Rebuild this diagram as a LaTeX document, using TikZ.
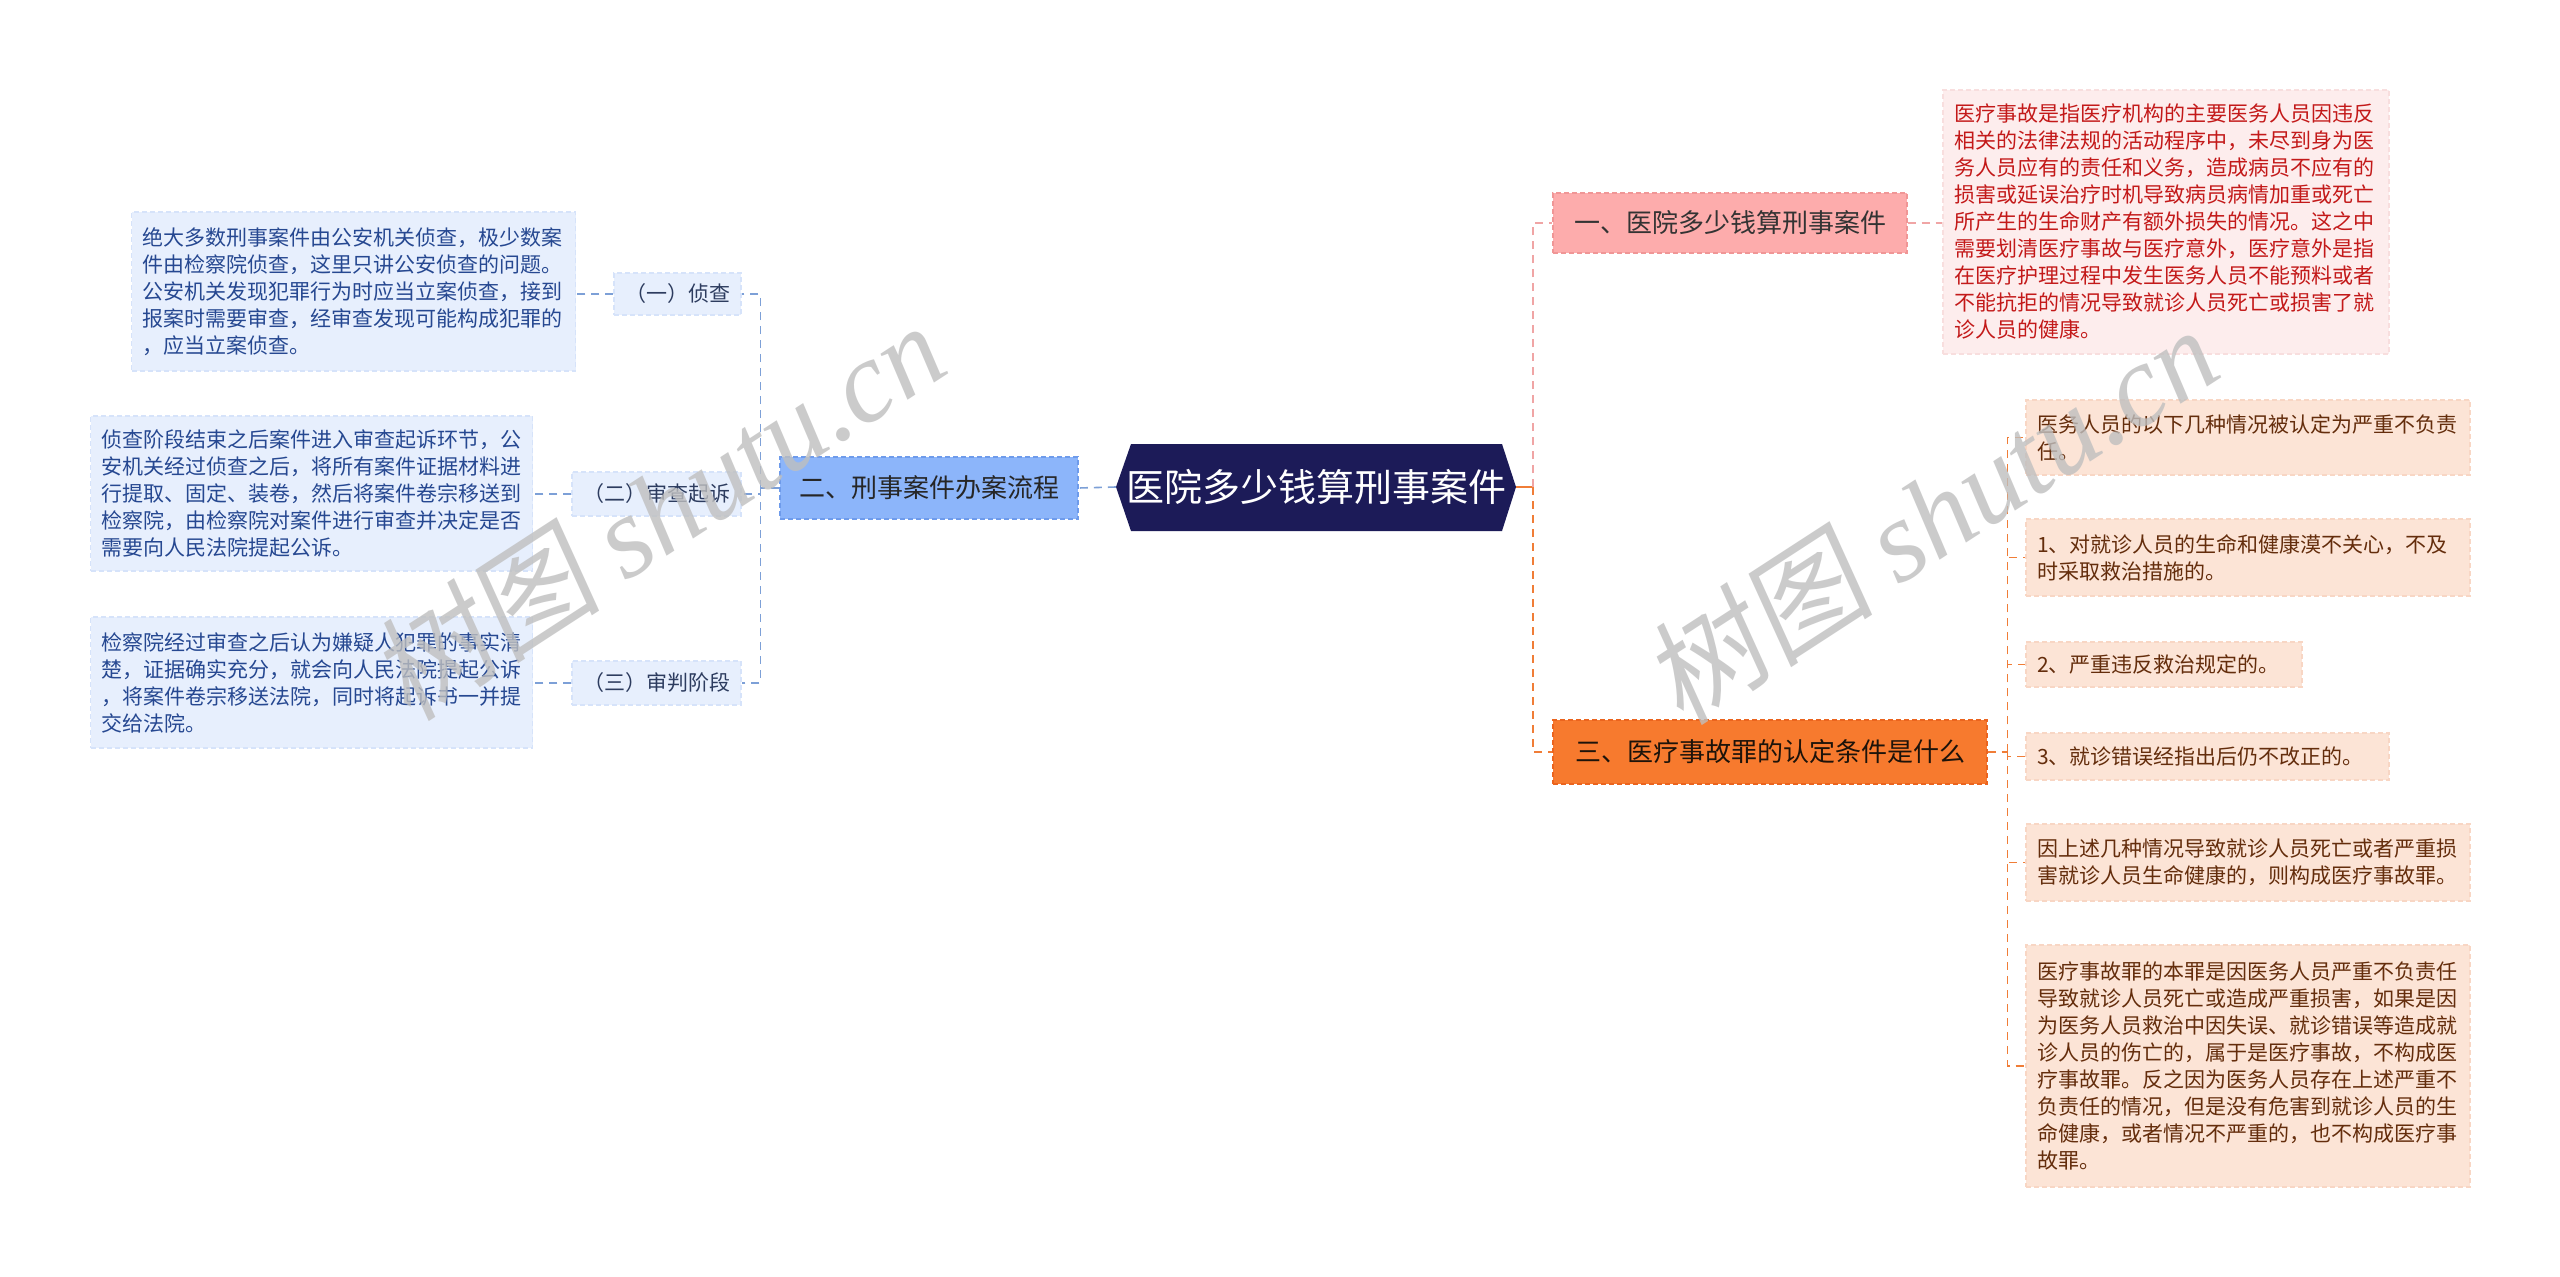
\documentclass[tikz,border=0pt]{standalone}
\usepackage{fontspec}
\setmainfont{Noto Sans CJK SC}
\newfontfamily\wmserif{Liberation Serif}
\newfontfamily\wmcjk[FakeSlant=0.15]{Noto Sans CJK SC}
\definecolor{rootfill}{RGB}{28,27,88}
\definecolor{bluefill}{RGB}{140,181,250}
\definecolor{blueborder}{RGB}{110,155,235}
\definecolor{paleblue}{RGB}{231,239,253}
\definecolor{palebluebd}{RGB}{214,227,250}
\definecolor{bluetext}{RGB}{38,72,145}
\definecolor{subtext}{RGB}{45,60,95}
\definecolor{lineblue}{RGB}{125,160,215}
\definecolor{pinkfill}{RGB}{253,172,172}
\definecolor{pinkborder}{RGB}{240,150,150}
\definecolor{palepink}{RGB}{253,237,237}
\definecolor{palepinkbd}{RGB}{248,222,222}
\definecolor{redtext}{RGB}{195,25,25}
\definecolor{linepink}{RGB}{240,165,165}
\definecolor{orangefill}{RGB}{247,122,46}
\definecolor{orangeborder}{RGB}{235,100,30}
\definecolor{paleorange}{RGB}{252,228,214}
\definecolor{paleorangebd}{RGB}{248,214,196}
\definecolor{browntext}{RGB}{100,45,12}
\definecolor{lineorange}{RGB}{240,125,55}
\begin{document}
\begin{tikzpicture}[x=1pt,y=-1pt,
  conn/.style={line width=1.6pt, dash pattern=on 8pt off 6pt},
  blueline/.style={conn, draw=lineblue},
  pinkline/.style={conn, draw=linepink},
  orangeline/.style={conn, draw=lineorange},
  box/.style={rectangle, inner xsep=11pt, inner ysep=0pt, line width=1.2pt, dash pattern=on 5pt off 3pt},
  mainfnt/.style={font=\fontsize{26}{30}\selectfont},
  leaffnt/.style={font=\fontsize{21}{27}\selectfont},
  branchtwo/.style={box, mainfnt, fill=bluefill, draw=blueborder, text=black!85, align=center},
  subbox/.style={box, leaffnt, fill=paleblue, draw=palebluebd, text=subtext, align=center},
  blueleaf/.style={box, leaffnt, fill=paleblue, draw=palebluebd, text=bluetext, align=left},
  branchone/.style={box, mainfnt, fill=pinkfill, draw=pinkborder, text=black!80, align=center},
  redleaf/.style={box, leaffnt, fill=palepink, draw=palepinkbd, text=redtext, align=left},
  branchthree/.style={box, mainfnt, fill=orangefill, draw=orangeborder, text=black!85!brown, align=center},
  orangeleaf/.style={box, leaffnt, fill=paleorange, draw=paleorangebd, text=browntext, align=left},
  wmark/.style={rotate=33, text=black!25, opacity=0.8, font=\fontsize{116}{118}\selectfont}
]
\useasboundingbox (0,0) rectangle (2560,1277);
\fill[white] (0,0) rectangle (2560,1277);

% root hexagon
\fill[rootfill] (1116,487) -- (1131,444) -- (1502,444) -- (1516,487) -- (1502,531) -- (1131,531) -- cycle;
\node (root) at (1316,487) [minimum width=400pt, minimum height=87pt, inner sep=0pt, text=white, font=\fontsize{38}{40}\selectfont] {医院多少钱算刑事案件};

% left branch
\node[branchtwo, minimum width=298pt, minimum height=62pt] (n2) at (929,488) {二、刑事案件办案流程};
\node[subbox, minimum width=127pt, minimum height=42pt] (s1) at (677.5,294) {（一）侦查};
\node[subbox, minimum width=167pt, minimum height=44pt] (s2) at (656.5,494) {（二）审查起诉};
\node[subbox, minimum width=167pt, minimum height=44pt] (s3) at (656.5,683) {（三）审判阶段};

\node[blueleaf, text width=422pt, minimum height=159pt] (l1) at (353.5,291.5) {绝大多数刑事案件由公安机关侦查，极少数案\\件由检察院侦查，这里只讲公安侦查的问题。\\公安机关发现犯罪行为时应当立案侦查，接到\\报案时需要审查，经审查发现可能构成犯罪的\\，应当立案侦查。};
\node[blueleaf, text width=420pt, minimum height=155pt] (l2) at (311.5,493.5) {侦查阶段结束之后案件进入审查起诉环节，公\\安机关经过侦查之后，将所有案件证据材料进\\行提取、固定、装卷，然后将案件卷宗移送到\\检察院，由检察院对案件进行审查并决定是否\\需要向人民法院提起公诉。};
\node[blueleaf, text width=420pt, minimum height=131pt] (l3) at (311.5,682.5) {检察院经过审查之后认为嫌疑人犯罪的事实清\\楚，证据确实充分，就会向人民法院提起公诉\\，将案件卷宗移送法院，同时将起诉书一并提\\交给法院。};

% right branches
\node[branchone, minimum width=354pt, minimum height=60pt] (b1) at (1730,223) {一、医院多少钱算刑事案件};
\node[redleaf, text width=424pt, minimum height=264pt] (r1) at (2166,222) {医疗事故是指医疗机构的主要医务人员因违反\\相关的法律法规的活动程序中，未尽到身为医\\务人员应有的责任和义务，造成病员不应有的\\损害或延误治疗时机导致病员病情加重或死亡\\所产生的生命财产有额外损失的情况。这之中\\需要划清医疗事故与医疗意外，医疗意外是指\\在医疗护理过程中发生医务人员不能预料或者\\不能抗拒的情况导致就诊人员死亡或损害了就\\诊人员的健康。};

\node[branchthree, minimum width=434pt, minimum height=64pt] (b3) at (1770,752) {三、医疗事故罪的认定条件是什么};
\node[orangeleaf, text width=422pt, minimum height=75pt] (oa) at (2248,437.5) {医务人员的以下几种情况被认定为严重不负责\\任。};
\node[orangeleaf, text width=422pt, minimum height=77pt] (ob) at (2248,557.5) {1、对就诊人员的生命和健康漠不关心，不及\\时采取救治措施的。};
\node[orangeleaf, text width=254pt, minimum height=45pt] (oc) at (2164,664.5) {2、严重违反救治规定的。};
\node[orangeleaf, text width=341pt, minimum height=47pt] (od) at (2207.5,756.5) {3、就诊错误经指出后仍不改正的。};
\node[orangeleaf, text width=422pt, minimum height=77pt] (oe) at (2248,862.5) {因上述几种情况导致就诊人员死亡或者严重损\\害就诊人员生命健康的，则构成医疗事故罪。};
\node[orangeleaf, text width=422pt, minimum height=242pt] (of) at (2248,1066) {医疗事故罪的本罪是因医务人员严重不负责任\\导致就诊人员死亡或造成严重损害，如果是因\\为医务人员救治中因失误、就诊错误等造成就\\诊人员的伤亡的，属于是医疗事故，不构成医\\疗事故罪。反之因为医务人员存在上述严重不\\负责任的情况，但是没有危害到就诊人员的生\\命健康，或者情况不严重的，也不构成医疗事\\故罪。};

% left connectors
\draw[blueline] (root.west) -- (n2.east);
\draw[blueline] (n2.west) -- ++(-19,0) coordinate (lj);
\draw[blueline] (lj) |- (s1.east);
\draw[blueline] (lj) |- (s2.east);
\draw[blueline] (lj) |- (s3.east);
\draw[blueline] (s1.west) -- (s1.west -| l1.east);
\draw[blueline] (s2.west) -- (s2.west -| l2.east);
\draw[blueline] (s3.west) -- (s3.west -| l3.east);

% right connectors
\draw[line width=1.6pt, draw=lineorange] (root.east) -- (1533,487) coordinate (rj);
\draw[pinkline] (rj) |- (b1.west);
\draw[orangeline] (rj) |- (b3.west);
\draw[pinkline] (b1.east) -- (b1.east -| r1.west);
\draw[orangeline] (b3.east) -- ++(20,0) coordinate (oj);
\draw[orangeline] (oj) |- (oa.west);
\draw[orangeline] (oj) |- (ob.west);
\draw[orangeline] (oj) |- (oc.west);
\draw[orangeline] (oj) |- (od.west);
\draw[orangeline] (oj) |- (oe.west);
\draw[orangeline] (oj) |- (of.west);

% watermarks
\node[wmark] (wm1) at (657,510) {{\wmcjk 树图} {\wmserif\itshape shutu.cn}};
\node[wmark] (wm2) at (1930,514) {{\wmcjk 树图} {\wmserif\itshape shutu.cn}};
\end{tikzpicture}
\end{document}
